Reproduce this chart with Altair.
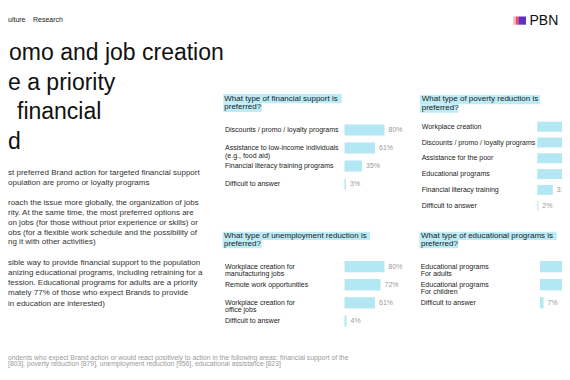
import altair as alt
import pandas as pd

# ---------------- data ----------------
fin_labels = ["Discounts / promo / loyalty programs",
              "Assistance to low-income individuals\n(e.g., food aid)",
              "Financial literacy training programs",
              "Difficult to answer"]
fin_values = [80, 61, 35, 3]

pov_labels = ["Workplace creation",
              "Discounts / promo / loyalty programs",
              "Assistance for the poor",
              "Educational programs",
              "Financial literacy training",
              "Difficult to answer"]
pov_values = [74, 61, 54, 52, 31, 2]

unemp_labels = ["Workplace creation for\nmanufacturing jobs",
                "Remote work opportunities",
                "Workplace creation for\noffice jobs",
                "Difficult to answer"]
unemp_values = [80, 72, 61, 4]

edu_labels = ["Educational programs\nFor adults",
              "Educational programs\nFor children",
              "Difficult to answer"]
edu_values = [77, 60, 7]

panel_titles = ["What type of financial support is\npreferred?",
                "What type of poverty reduction is\npreferred?",
                "What type of unemployment reduction is\npreferred?",
                "What type of educational programs is\npreferred?"]

title_lines = ["omo and job creation", "e a priority", "financial", "d"]
nav_items = ["ulture", "Research"]
para1 = ("st preferred Brand action for targeted financial support\n"
         "opulation are promo or loyalty programs")
para2 = ("roach the issue more globally, the organization of jobs\n"
         "rity. At the same time, the most preferred options are\n"
         "on jobs (for those without prior experience or skills) or\n"
         "obs (for a flexible work schedule and the possibility of\n"
         "ng it with other activities)")
para3 = ("sible way to provide financial support to the population\n"
         "anizing educational programs, including retraining for a\n"
         "fession. Educational programs for adults are a priority\n"
         "mately 77% of those who expect Brands to provide\n"
         "in education are interested)")
footnote = ("ondents who expect Brand action or would react positively to action in the following areas: financial support of the\n"
            "[803], poverty reduction [879], unemployment reduction [956], educational assistance [823]")
logo_text = "PBN"

# ---------------- style ----------------
FONT = "Liberation Sans"
BAR = "#b3e7f4"
HL = "#bdebf6"
DARK = "#222222"
GREY = "#9a9a9a"


def txt(s, x, y, size, color, baseline="top", lh=None, weight="normal"):
    kw = dict(align="left", baseline=baseline, fontSize=size, color=color,
              font=FONT, fontWeight=weight, lineBreak="\n")
    if lh:
        kw["lineHeight"] = lh
    return alt.Chart(pd.DataFrame({"t": [s]})).mark_text(**kw).encode(
        x=alt.value(x), y=alt.value(y), text="t:N")


def box(x, x2, y, y2, color):
    return alt.Chart(pd.DataFrame({"a": [0]})).mark_rect(color=color).encode(
        x=alt.value(x), x2=alt.value(x2), y=alt.value(y), y2=alt.value(y2))


def panel(labels, values, x0, y0, y1, label_x, pin):
    df = pd.DataFrame({"label": labels, "value": values,
                       "txt": [f"{v}%" for v in values]})
    xs = alt.Scale(domain=[0, 100], range=[x0, x0 + 50])
    ys = alt.Scale(domain=labels, range=[y0, y1], paddingInner=pin, paddingOuter=pin / 2)
    xenc = alt.X("value:Q", scale=xs, axis=None)
    yenc = alt.Y("label:N", scale=ys, axis=None, sort=labels)
    base = alt.Chart(df)
    bars = base.mark_bar(color=BAR).encode(x=xenc, y=yenc)
    vals = base.mark_text(align="left", baseline="middle", dx=4, fontSize=7,
                          color=GREY, font=FONT).encode(x=xenc, y=yenc, text="txt:N")
    labs = base.mark_text(align="left", baseline="middle", fontSize=7, color=DARK,
                          font=FONT, lineBreak="\n", lineHeight=7.5).encode(
        x=alt.value(label_x), y=yenc, text="label:N")
    return [bars, vals, labs]


layers = []

# nav
layers.append(txt(nav_items[0], 0, 12, 7, DARK, baseline="middle"))
layers.append(txt(nav_items[1], 25, 12, 7, DARK, baseline="middle"))

# logo
layers.append(box(505.3, 508, 8.5, 16.7, "#f7b3c0"))
layers.append(box(508, 511, 8.5, 16.7, "#e4506c"))
layers.append(box(511, 518, 8.5, 16.7, "#5a30c8"))
layers.append(txt(logo_text, 521.5, 12.5, 14, "#111111", baseline="middle"))

# big title
tx = [1, 0, 9, 0]
ty = [52, 81.5, 111, 140.5]
for s, x, y in zip(title_lines, tx, ty):
    layers.append(txt(s, x, y, 23, "#111111", baseline="alphabetic"))

# body paragraphs
layers.append(txt(para1, 0, 160.5, 8, "#333333", lh=10))
layers.append(txt(para2, 0, 191.1, 8, "#333333", lh=9.85))
layers.append(txt(para3, 0, 250.5, 8, "#333333", lh=10.3))

# footnote
layers.append(txt(footnote, 0, 346.5, 6.8, GREY, lh=6.8))

# panel title highlights
hl = [
    [(215.3, 333.7, 86, 95.3), (215.3, 253.7, 95.3, 104)],
    [(412, 532, 87, 96.3), (412, 450.3, 96.3, 104.7)],
    [(214.7, 362, 223.7, 232), (214.7, 253.7, 232, 240.3)],
    [(411.3, 548.7, 223.7, 232), (411.3, 450.3, 232, 240.3)],
]
for rects in hl:
    for r in rects:
        layers.append(box(*r, HL))

title_pos = [(216.3, 86.8), (413.7, 87.3), (216, 223.5), (413, 223.5)]
for s, (x, y) in zip(panel_titles, title_pos):
    layers.append(txt(s, x, y, 8, DARK, lh=8.4))

# panels
layers += panel(fin_labels, fin_values, 336.5, 113, 185, 217, 0.39)
layers += panel(pov_labels, pov_values, 529.3, 110.8, 205.6, 413.7, 0.37)
layers += panel(unemp_labels, unemp_values, 336.5, 249.6, 322, 217, 0.375)
layers += panel(edu_labels, edu_values, 532, 249.7, 303.7, 412.7, 0.37)

chart = alt.layer(*layers).resolve_scale(
    x="independent", y="independent"
).properties(
    width=554, height=364,
    autosize=alt.AutoSizeParams(type="none"),
    padding=0,
    background="white",
).configure_view(stroke=None)

chart.save("out.html", embed_options={"renderer": "svg", "actions": False})
